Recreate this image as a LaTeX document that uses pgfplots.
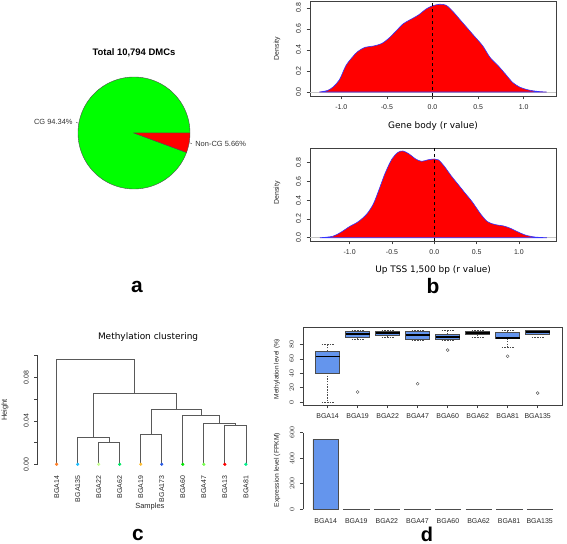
\documentclass[border=0pt]{standalone}
\usepackage{fontspec}
\setmainfont{Liberation Sans}
\newfontfamily\djv{DejaVu Sans}
\usepackage{pgfplots}
\pgfplotsset{compat=1.18}
\usepgfplotslibrary{statistics}

\definecolor{cfblue}{RGB}{100,149,237}
\definecolor{piegreen}{RGB}{0,255,0}
\definecolor{c14}{RGB}{255,127,40}
\definecolor{c135}{RGB}{30,190,255}
\definecolor{c22}{RGB}{200,255,150}
\definecolor{c62}{RGB}{0,230,100}
\definecolor{c19}{RGB}{255,190,50}
\definecolor{c173}{RGB}{40,90,230}
\definecolor{c60}{RGB}{0,230,0}
\definecolor{c47}{RGB}{120,255,80}
\definecolor{c13}{RGB}{255,0,0}
\definecolor{c81}{RGB}{0,240,140}

\pgfplotsset{
 rbase/.style={scale only axis, anchor=south west, tick align=outside, major tick length=3.5bp,
  tick style={black!75, line width=0.5bp},
  axis line style={black!75, line width=0.5bp},
  tick label style={font=\fontsize{7}{8}\selectfont, text=black!85},
  tick pos=left,
  yticklabel style={rotate=90, anchor=south},
  xticklabel shift=2bp, yticklabel shift=2bp,
 },
}

\begin{document}
\begin{tikzpicture}
\useasboundingbox (0,0) rectangle (567bp,544bp);

% ---------- panel a: pie ----------
\begin{axis}[scale only axis, anchor=south west, at={(78bp,355bp)}, width=112bp, height=112bp,
  xmin=-1, xmax=1, ymin=-1, ymax=1, hide axis, clip=false]
\addplot[fill=piegreen, draw=black!70, line width=0.4bp, domain=0:{94.34*3.6}, samples=140]
  ({cos(x)},{sin(x)}) -- (axis cs:0,0) -- cycle;
\addplot[fill=red, draw=black!70, line width=0.4bp, domain={94.34*3.6}:360, samples=12]
  ({cos(x)},{sin(x)}) -- (axis cs:0,0) -- cycle;
\addplot[black!70, line width=0.4bp] coordinates {(-0.984,0.177) (-1.033,0.186)};
\addplot[black!70, line width=0.4bp] coordinates {(0.984,-0.177) (1.033,-0.186)};
\node[anchor=east, inner sep=0.5bp, font=\fontsize{7.5}{9}\selectfont, text=black!80] at (axis cs:-1.083,0.195) {CG 94.34\%};
\node[anchor=west, inner sep=0.5bp, font=\fontsize{7.5}{9}\selectfont, text=black!80] at (axis cs:1.083,-0.195) {Non-CG 5.66\%};
\node[font=\bfseries\fontsize{9.5}{11}\selectfont] at (axis description cs:0.5,1.214) {Total 10,794 DMCs};
\end{axis}

% ---------- panel b top: Gene body density ----------
\begin{axis}[rbase, at={(310bp,448bp)}, width=246bp, height=95bp,
  xmin=-1.343, xmax=1.354, ymin=-0.038, ymax=0.866,
  xtick={-1,-0.5,0,0.5,1}, xticklabels={-1.0,-0.5,0.0,0.5,1.0},
  ytick={0,0.2,0.4,0.6,0.8}, yticklabels={0.0,0.2,0.4,0.6,0.8},
  xlabel={Gene body (r value)}, ylabel={Density},
  every axis x label/.style={at={(axis description cs:0.5,-0.316)}, anchor=center, font=\djv\fontsize{9}{10}\selectfont},
  every axis y label/.style={at={(axis description cs:-0.134,0.5)}, rotate=90, anchor=center, font=\fontsize{7}{8}\selectfont, text=black!85}]
\addplot[gray!45, line width=0.5bp] coordinates {(-1.343,0) (1.354,0)};
\addplot[fill=red, draw=blue!80, line width=0.6bp, smooth, tension=0.5] coordinates {
(-1.24,0.0) (-1.15,0.015) (-1.09,0.048) (-1.02,0.117) (-0.95,0.25) (-0.88,0.33) (-0.82,0.385)
(-0.74,0.425) (-0.65,0.437) (-0.56,0.46) (-0.48,0.51) (-0.40,0.58) (-0.32,0.65) (-0.24,0.69)
(-0.15,0.735) (-0.07,0.79) (0.0,0.82) (0.08,0.835) (0.15,0.825) (0.22,0.77) (0.30,0.69)
(0.38,0.61) (0.46,0.53) (0.55,0.44) (0.63,0.33) (0.72,0.25) (0.80,0.17) (0.88,0.09)
(0.96,0.045) (1.05,0.02) (1.15,0.006) (1.25,0.0)} -- cycle;
\addplot[black, dashed, line width=0.5bp] coordinates {(0,-0.038) (0,0.866)};
\end{axis}

% ---------- panel b bottom: Up TSS density ----------
\begin{axis}[rbase, at={(310bp,303bp)}, width=246.3bp, height=92.7bp,
  xmin=-1.468, xmax=1.441, ymin=-0.035, ymax=0.954,
  xtick={-1,-0.5,0,0.5,1}, xticklabels={-1.0,-0.5,0.0,0.5,1.0},
  ytick={0,0.2,0.4,0.6,0.8}, yticklabels={0.0,0.2,0.4,0.6,0.8},
  xlabel={Up TSS 1,500 bp (r value)}, ylabel={Density},
  every axis x label/.style={at={(axis description cs:0.5,-0.313)}, anchor=center, font=\djv\fontsize{9}{10}\selectfont},
  every axis y label/.style={at={(axis description cs:-0.134,0.518)}, rotate=90, anchor=center, font=\fontsize{7}{8}\selectfont, text=black!85}]
\addplot[gray!45, line width=0.5bp] coordinates {(-1.468,0) (1.441,0)};
\addplot[fill=red, draw=blue!80, line width=0.6bp, smooth, tension=0.5] coordinates {
(-1.35,0.0) (-1.2,0.015) (-1.1,0.06) (-1.0,0.12) (-0.9,0.17) (-0.8,0.25) (-0.72,0.36)
(-0.65,0.52) (-0.58,0.69) (-0.5,0.84) (-0.43,0.91) (-0.37,0.925) (-0.30,0.895) (-0.22,0.84)
(-0.15,0.815) (-0.08,0.83) (0.0,0.84) (0.05,0.83) (0.12,0.76) (0.2,0.66) (0.28,0.57)
(0.36,0.48) (0.45,0.38) (0.55,0.25) (0.63,0.17) (0.72,0.14) (0.82,0.125) (0.9,0.1)
(0.98,0.065) (1.07,0.03) (1.18,0.008) (1.33,0.0)} -- cycle;
\addplot[black, dashed, line width=0.5bp] coordinates {(0,-0.035) (0,0.954)};
\end{axis}

% ---------- panel c: dendrogram ----------
\begin{axis}[rbase, at={(37.7bp,75.35bp)}, width=227.1bp, height=113.65bp,
  xmin=0.1, xmax=10.9, ymin=-0.004, ymax=0.1005,
  axis line style={draw=none}, clip=false,
  xtick={1,...,10}, xticklabels={BGA14,BGA135,BGA22,BGA62,BGA19,BGA173,BGA60,BGA47,BGA13,BGA81},
  xtick style={draw=none}, xticklabel style={rotate=90, anchor=east}, xticklabel shift=0bp,
  ytick={0,0.02,0.04,0.06,0.08,0.1}, yticklabels={0.00,,0.04,,0.08,},
  xlabel={Samples}, ylabel={Height},
  every axis x label/.style={at={(axis description cs:0.494,-0.337)}, anchor=center, font=\fontsize{7.5}{9}\selectfont, text=black!85},
  every axis y label/.style={at={(axis description cs:-0.144,0.516)}, rotate=90, anchor=center, font=\fontsize{7.5}{9}\selectfont, text=black!85}]
\draw[black!75, line width=0.5bp] (axis cs:0.1,0) -- (axis cs:0.1,0.1);
\addplot[black!65, line width=0.7bp] coordinates {(3,0) (3,0.0202) (4,0.0202) (4,0)};
\addplot[black!65, line width=0.7bp] coordinates {(2,0) (2,0.0248) (3.5,0.0248) (3.5,0.0202)};
\addplot[black!65, line width=0.7bp] coordinates {(9,0) (9,0.0359) (10,0.0359) (10,0)};
\addplot[black!65, line width=0.7bp] coordinates {(8,0) (8,0.0374) (9.5,0.0374) (9.5,0.0359)};
\addplot[black!65, line width=0.7bp] coordinates {(7,0) (7,0.0451) (8.75,0.0451) (8.75,0.0374)};
\addplot[black!65, line width=0.7bp] coordinates {(5,0) (5,0.0276) (6,0.0276) (6,0)};
\addplot[black!65, line width=0.7bp] coordinates {(5.5,0.0276) (5.5,0.0506) (7.875,0.0506) (7.875,0.0451)};
\addplot[black!65, line width=0.7bp] coordinates {(2.75,0.0248) (2.75,0.0653) (6.6875,0.0653) (6.6875,0.0506)};
\addplot[black!65, line width=0.7bp] coordinates {(1,0) (1,0.0966) (4.71875,0.0966) (4.71875,0.0653)};
\addplot[only marks, mark=*, mark size=1.4bp, c14] coordinates {(1,0)};
\addplot[only marks, mark=*, mark size=1.4bp, c135] coordinates {(2,0)};
\addplot[only marks, mark=*, mark size=1.4bp, c22] coordinates {(3,0)};
\addplot[only marks, mark=*, mark size=1.4bp, c62] coordinates {(4,0)};
\addplot[only marks, mark=*, mark size=1.4bp, c19] coordinates {(5,0)};
\addplot[only marks, mark=*, mark size=1.4bp, c173] coordinates {(6,0)};
\addplot[only marks, mark=*, mark size=1.4bp, c60] coordinates {(7,0)};
\addplot[only marks, mark=*, mark size=1.4bp, c47] coordinates {(8,0)};
\addplot[only marks, mark=*, mark size=1.4bp, c13] coordinates {(9,0)};
\addplot[only marks, mark=*, mark size=1.4bp, c81] coordinates {(10,0)};
\node[font=\djv\fontsize{9}{10}\selectfont] at (axis description cs:0.486,1.158) {Methylation clustering};
\end{axis}

% ---------- panel d top: boxplot ----------
\begin{axis}[rbase, at={(303bp,139bp)}, width=259.3bp, height=78bp,
  xmin=0.18, xmax=8.82, ymin=-4, ymax=104,
  xtick={1,...,8}, xticklabels={BGA14,BGA19,BGA22,BGA47,BGA60,BGA62,BGA81,BGA135},
  ytick={0,20,40,60,80},
  ylabel={Methylation level (\%)},
  every axis y label/.style={at={(axis description cs:-0.100,0.462)}, rotate=90, anchor=center, font=\fontsize{6.5}{8}\selectfont, text=black!85},
  boxplot/draw direction=y,
  boxplot/box extend=0.8, boxplot/whisker extend=0.4,
  boxplot/every box/.style={fill=cfblue, draw=black!70, line width=0.5bp},
  boxplot/every median/.style={black, line width=1.6bp},
  boxplot/every whisker/.style={black!70, line width=0.5bp, dash pattern=on 1.5bp off 1.2bp}]
\addplot[black!70, mark=o, mark size=1.5bp, boxplot prepared={draw position=1, lower whisker=0, lower quartile=40.5, median=63, upper quartile=70.5, upper whisker=80}] coordinates {};
\addplot[black!70, mark=o, mark size=1.5bp, boxplot prepared={draw position=2, lower whisker=87.4, lower quartile=90, median=94.5, upper quartile=97.5, upper whisker=100}] table[row sep=\\, y index=0] {14\\};
\addplot[black!70, mark=o, mark size=1.5bp, boxplot prepared={draw position=3, lower whisker=89.8, lower quartile=92.6, median=95.3, upper quartile=97.7, upper whisker=100}] coordinates {};
\addplot[black!70, mark=o, mark size=1.5bp, boxplot prepared={draw position=4, lower whisker=86.3, lower quartile=86.5, median=93.3, upper quartile=97.7, upper whisker=100}] table[row sep=\\, y index=0] {25.5\\};
\addplot[black!70, mark=o, mark size=1.5bp, boxplot prepared={draw position=5, lower whisker=86.3, lower quartile=86.5, median=90.5, upper quartile=94, upper whisker=100}] table[row sep=\\, y index=0] {72\\};
\addplot[black!70, mark=o, mark size=1.5bp, boxplot prepared={draw position=6, lower whisker=90.2, lower quartile=93.5, median=95.5, upper quartile=97.7, upper whisker=100}] coordinates {};
\addplot[black!70, mark=o, mark size=1.5bp, boxplot prepared={draw position=7, lower whisker=75.3, lower quartile=88.4, median=88.8, upper quartile=96.3, upper whisker=100}] table[row sep=\\, y index=0] {63.5\\};
\addplot[black!70, mark=o, mark size=1.5bp, boxplot prepared={draw position=8, lower whisker=89.8, lower quartile=94.4, median=96.7, upper quartile=99, upper whisker=100}] table[row sep=\\, y index=0] {12.5\\};
\end{axis}

% ---------- panel d bottom: bar chart ----------
\begin{axis}[rbase, at={(303.4bp,31.9bp)}, width=258.6bp, height=82bp,
  xmin=-0.176, xmax=9.976, ymin=-22, ymax=620,
  axis line style={draw=none}, clip=false,
  xtick={0.7,1.9,3.1,4.3,5.5,6.7,7.9,9.1}, xticklabels={BGA14,BGA19,BGA22,BGA47,BGA60,BGA62,BGA81,BGA135},
  xtick style={draw=none}, xticklabel shift=0bp,
  ytick={0,200,400,600},
  ylabel={Expression level (FPKM)},
  every axis y label/.style={at={(axis description cs:-0.102,0.513)}, rotate=90, anchor=center, font=\fontsize{6.8}{8}\selectfont, text=black!85}]
\draw[black!75, line width=0.5bp] (axis cs:-0.176,0) -- (axis cs:-0.176,600);
\addplot[ybar, bar width=25.48bp, bar shift=0pt, fill=cfblue, draw=black!70, line width=0.6bp] coordinates {
(0.7,548) (1.9,1) (3.1,1) (4.3,1) (5.5,1) (6.7,1) (7.9,1) (9.1,1)};
\end{axis}

% ---------- panel letters ----------
\node[anchor=base, inner sep=0pt, font=\bfseries\fontsize{21}{23}\selectfont] at (137bp,251bp) {a};
\node[anchor=base, inner sep=0pt, font=\bfseries\fontsize{21}{23}\selectfont] at (433bp,250bp) {b};
\node[anchor=base, inner sep=0pt, font=\bfseries\fontsize{21}{23}\selectfont] at (138bp,3.5bp) {c};
\node[anchor=base, inner sep=0pt, font=\bfseries\fontsize{20}{22}\selectfont] at (427bp,3bp) {d};
\end{tikzpicture}
\end{document}
